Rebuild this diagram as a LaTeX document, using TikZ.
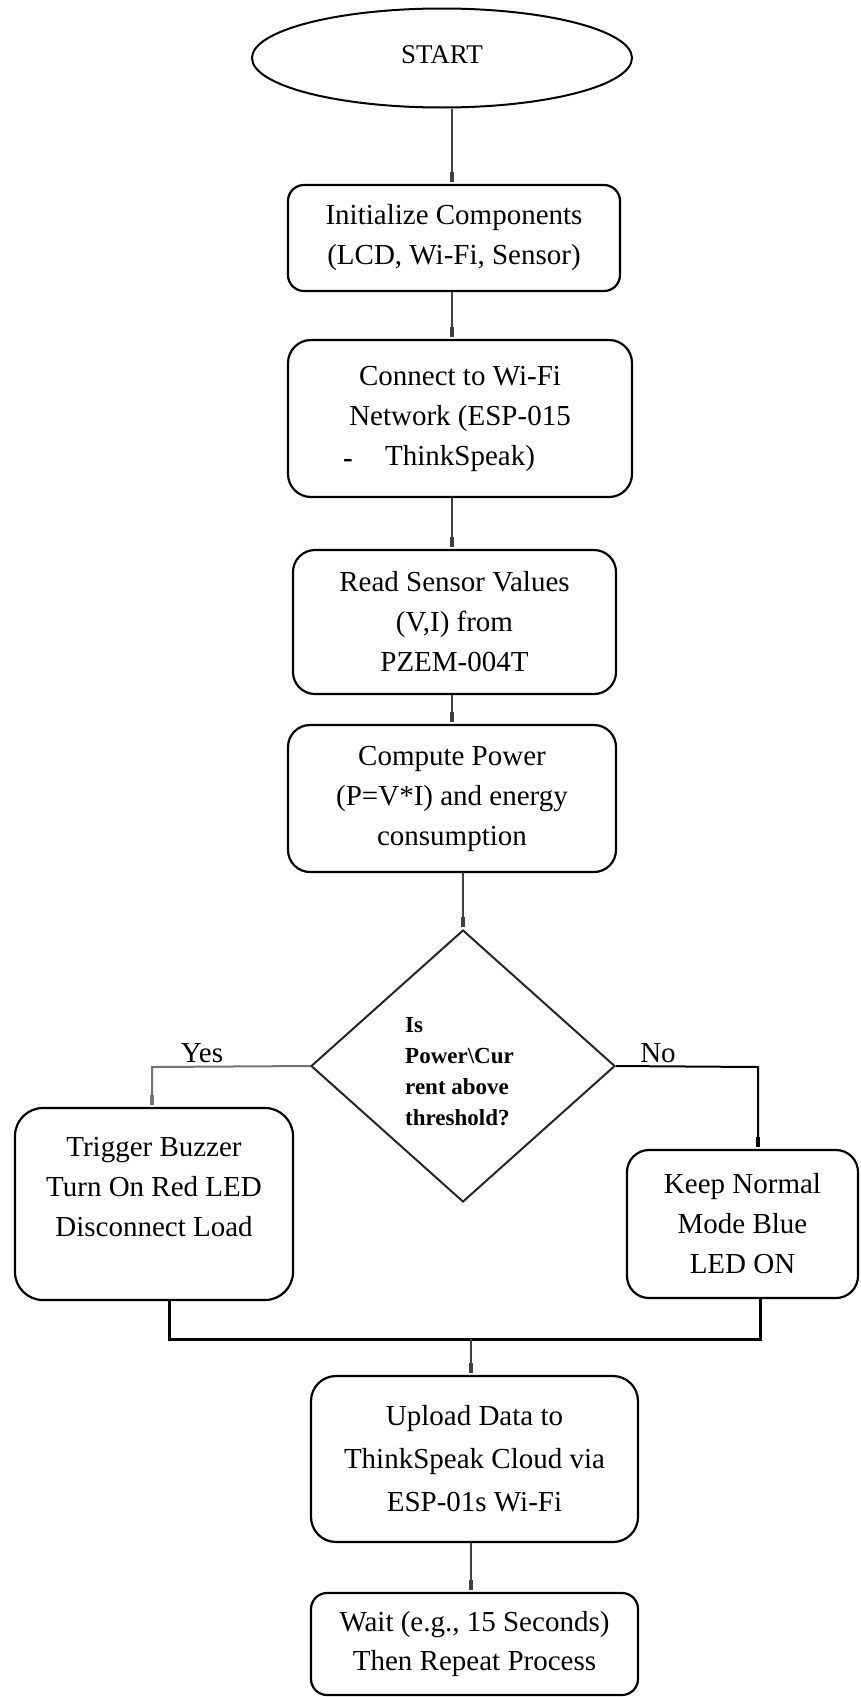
\documentclass[tikz,border=0pt]{standalone}
\usepackage{fontspec}
\setmainfont{Liberation Serif}
\usetikzlibrary{shapes.geometric,arrows.meta}
\begin{document}
\begin{tikzpicture}[x=1pt,y=-1pt,
  box/.style={draw=black, line width=2.2pt, rounded corners=20pt, align=center, inner sep=0pt, font=\fontsize{29}{40}\selectfont},
  conn/.style={draw=black!75, line width=2pt},
  arr/.style={conn, -{Rectangle[length=10pt,width=4.5pt]}, shorten >=2pt},
  lbl/.style={font=\fontsize{29}{35}\selectfont, inner sep=0pt}
]
\useasboundingbox[fill=white] (0,0) rectangle (860,1697);

\node[ellipse, draw=black, line width=2pt, minimum width=380pt, minimum height=99pt, inner sep=0pt, font=\fontsize{27}{32}\selectfont] (start) at (442,58) {\raisebox{6pt}{START}};

\node[box, rounded corners=16pt, minimum width=332pt, minimum height=106pt] (b1) at (454,238) {Initialize Components\\(LCD, Wi-Fi, Sensor)};
\node[box, rounded corners=23pt, minimum width=344pt, minimum height=157pt] (b2) at (460,418.5) {Connect to Wi-Fi\\Network (ESP-015\\ThinkSpeak)};
\node[font=\fontsize{29}{35}\selectfont\bfseries, inner sep=0pt] (dash) at (348,463.5) {-};
\node[box, rounded corners=22pt, minimum width=323pt, minimum height=144pt] (b3) at (454.5,622) {Read Sensor Values\\(V,I) from\\PZEM-004T};
\node[box, rounded corners=22pt, minimum width=328pt, minimum height=147pt] (b4) at (452,798.5) {Compute Power\\(P=V*I) and energy\\consumption};

\node[diamond, draw=black!85, line width=2pt, minimum width=304pt, minimum height=272pt, inner sep=0pt] (dia) at (463,1066) {};
\node[anchor=north west, align=left, inner sep=0pt, font=\fontsize{23}{31}\selectfont\bfseries] (q) at (405,1017) {Is\\Power\textbackslash Cur\\rent above\\threshold?};

\node[box, rounded corners=28pt, minimum width=278pt, minimum height=192pt] (trig) at (154,1204) {};
\node[align=center, inner sep=0pt, font=\fontsize{29}{40}\selectfont] (trigt) at (154,1187) {Trigger Buzzer\\Turn On Red LED\\Disconnect Load};
\node[box, rounded corners=22pt, minimum width=231pt, minimum height=148pt] (keep) at (742.5,1224) {Keep Normal\\Mode Blue\\LED ON};

\node[box, rounded corners=25pt, minimum width=327pt, minimum height=166pt, font=\fontsize{29}{43}\selectfont] (up) at (474.5,1459) {Upload Data to\\ThinkSpeak Cloud via\\ESP-01s Wi-Fi};
\node[box, rounded corners=16pt, minimum width=327pt, minimum height=102pt, font=\fontsize{29}{39}\selectfont] (wait) at (474.5,1644) {Wait (e.g., 15 Seconds)\\Then Repeat Process};

\coordinate (ax) at (452,0);
\draw[arr] (start.south -| ax) -- (b1.north -| ax);
\draw[arr] (b1.south -| ax) -- (b2.north -| ax);
\draw[arr] (b2.south -| ax) -- (b3.north -| ax);
\draw[arr] (b3.south -| ax) -- (b4.north -| ax);
\draw[arr] (b4.south -| dia.north) -- (dia.north);

\coordinate (yc) at (152,1067);
\draw[arr, draw=black!55] (dia.west) -- (yc) -- (trig.north -| yc);
\node[lbl, anchor=base] (yes) at (202,1062) {Yes};
\coordinate (nc) at (758,1067);
\draw[arr, draw=black] (dia.east) -- (nc) -- (keep.north -| nc);
\node[lbl, anchor=base] (no) at (658,1062) {No};

\coordinate (ml) at (169,1339);
\coordinate (mr) at (760,1339);
\coordinate (mc) at (471,1339);
\draw[draw=black, line width=3pt] (trig.south -| ml) -- (ml) -- (mr) -- (keep.south -| mr);
\draw[arr] (mc) -- (up.north -| mc);
\draw[arr] (up.south -| mc) -- (wait.north -| mc);
\end{tikzpicture}
\end{document}
